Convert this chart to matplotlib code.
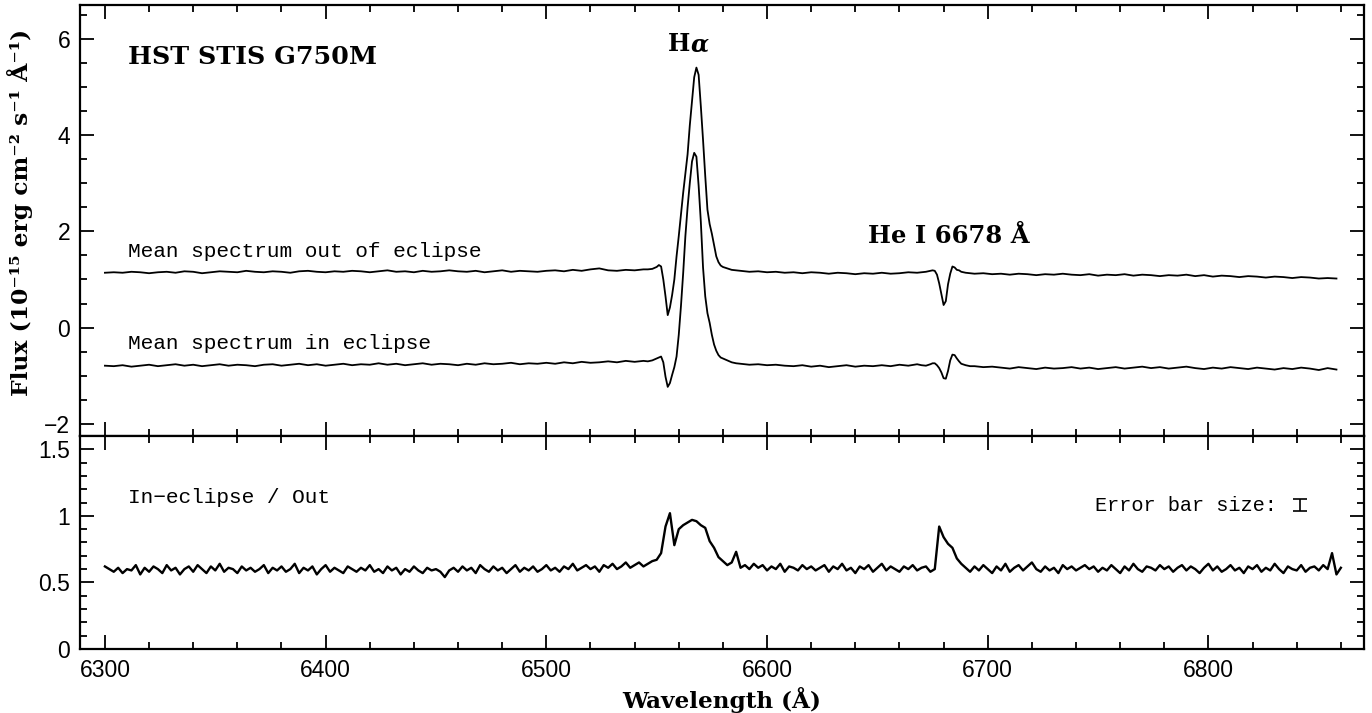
import numpy as np
import matplotlib
matplotlib.use('Agg')
import matplotlib.pyplot as plt
from matplotlib.ticker import MultipleLocator, FuncFormatter

# ---------------- datos ----------------
# rejilla de longitudes de onda del panel superior (A)
wl_seg1 = np.arange(6300, 6545, 4)
wl_ha = [6546, 6548, 6550, 6551, 6552, 6553, 6554, 6555, 6556, 6557, 6558,
         6559, 6560, 6561, 6562, 6563, 6564, 6565, 6566, 6567, 6568, 6569,
         6570, 6571, 6572, 6573, 6574, 6575, 6576, 6577, 6578, 6579, 6580,
         6582, 6584, 6586]
wl_seg2 = np.arange(6588, 6669, 4)
wl_he = [6670, 6672, 6674, 6675, 6676, 6677, 6678, 6679, 6680, 6681, 6682,
         6683, 6684, 6685, 6686, 6687, 6688, 6690, 6692]
wl_seg3 = np.arange(6694, 6859, 4)

# espectro medio fuera de eclipse
out_seg1 = [1.14, 1.15, 1.14, 1.16, 1.15, 1.13, 1.15, 1.16, 1.14, 1.17,
            1.16, 1.13, 1.15, 1.17, 1.16, 1.15, 1.18, 1.16, 1.15, 1.17,
            1.16, 1.14, 1.17, 1.18, 1.16, 1.15, 1.17, 1.16, 1.18, 1.17,
            1.15, 1.17, 1.19, 1.16, 1.17, 1.15, 1.18, 1.16, 1.17, 1.19,
            1.17, 1.16, 1.18, 1.15, 1.17, 1.19, 1.16, 1.18, 1.17, 1.16,
            1.18, 1.19, 1.17, 1.20, 1.18, 1.21, 1.23, 1.19, 1.18, 1.20,
            1.19, 1.21]
out_ha = [1.21, 1.22, 1.26, 1.30, 1.27, 1.00, 0.65, 0.26, 0.42, 0.68, 1.00,
          1.48, 1.90, 2.35, 2.80, 3.20, 3.60, 4.20, 4.70, 5.20, 5.40, 5.25,
          4.60, 3.90, 3.15, 2.45, 2.15, 1.95, 1.72, 1.48, 1.36, 1.29, 1.26,
          1.23, 1.20, 1.19]
out_seg2 = [1.18, 1.16, 1.17, 1.15, 1.16, 1.14, 1.15, 1.13, 1.15, 1.14,
            1.12, 1.14, 1.13, 1.11, 1.13, 1.12, 1.14, 1.12, 1.13, 1.15, 1.14]
out_he = [1.15, 1.16, 1.18, 1.19, 1.18, 1.10, 0.92, 0.70, 0.47, 0.55, 0.90,
          1.12, 1.27, 1.25, 1.20, 1.19, 1.16, 1.14, 1.13]
out_seg3 = [1.12, 1.13, 1.11, 1.12, 1.10, 1.12, 1.11, 1.09, 1.11, 1.10,
            1.12, 1.10, 1.09, 1.11, 1.08, 1.10, 1.09, 1.11, 1.08, 1.10,
            1.09, 1.07, 1.09, 1.08, 1.10, 1.07, 1.09, 1.06, 1.08, 1.07,
            1.05, 1.07, 1.06, 1.04, 1.06, 1.05, 1.03, 1.05, 1.04, 1.02,
            1.03, 1.02]

# espectro medio en eclipse
in_seg1 = [-0.79, -0.80, -0.78, -0.81, -0.79, -0.77, -0.80, -0.78, -0.76, -0.79,
           -0.77, -0.80, -0.78, -0.76, -0.79, -0.77, -0.78, -0.80, -0.77, -0.76,
           -0.79, -0.77, -0.75, -0.78, -0.76, -0.79, -0.77, -0.75, -0.78, -0.76,
           -0.77, -0.74, -0.77, -0.75, -0.78, -0.76, -0.74, -0.77, -0.75, -0.76,
           -0.78, -0.75, -0.77, -0.74, -0.76, -0.75, -0.73, -0.76, -0.74, -0.75,
           -0.73, -0.75, -0.72, -0.74, -0.71, -0.73, -0.72, -0.70, -0.72, -0.69,
           -0.71, -0.69]
in_ha = [-0.70, -0.68, -0.64, -0.62, -0.60, -0.72, -1.02, -1.23, -1.15, -0.98,
         -0.82, -0.60, -0.15, 0.45, 1.13, 1.90, 2.50, 3.00, 3.45, 3.63, 3.55,
         2.95, 2.20, 1.25, 0.65, 0.30, 0.10, -0.15, -0.35, -0.48, -0.57, -0.62,
         -0.64, -0.68, -0.72, -0.74]
in_seg2 = [-0.75, -0.77, -0.76, -0.78, -0.77, -0.79, -0.80, -0.78, -0.81, -0.79,
           -0.82, -0.80, -0.78, -0.81, -0.79, -0.80, -0.78, -0.80, -0.77, -0.79,
           -0.76]
in_he = [-0.78, -0.79, -0.76, -0.74, -0.74, -0.78, -0.84, -0.93, -1.05, -1.06,
         -0.90, -0.68, -0.56, -0.57, -0.64, -0.70, -0.75, -0.78, -0.80]
in_seg3 = [-0.80, -0.82, -0.81, -0.83, -0.85, -0.82, -0.84, -0.86, -0.83, -0.85,
           -0.84, -0.82, -0.85, -0.83, -0.86, -0.84, -0.82, -0.85, -0.83, -0.81,
           -0.84, -0.82, -0.85, -0.83, -0.81, -0.84, -0.86, -0.83, -0.85, -0.82,
           -0.84, -0.86, -0.83, -0.85, -0.87, -0.84, -0.86, -0.83, -0.85, -0.88,
           -0.84, -0.87]

# cociente en eclipse / fuera (paso de 2 A)
wl_ratio = np.arange(6300, 6861, 2)
ratio = [
    0.62, 0.60, 0.58, 0.61, 0.57, 0.60, 0.59, 0.63, 0.56, 0.61, 0.58, 0.62, 0.60, 0.57, 0.63, 0.59, 0.61, 0.56, 0.60, 0.62,
    0.58, 0.63, 0.60, 0.57, 0.62, 0.59, 0.64, 0.58, 0.61, 0.60, 0.57, 0.62, 0.59, 0.61, 0.58, 0.60, 0.63, 0.57, 0.61, 0.59,
    0.62, 0.58, 0.60, 0.64, 0.57, 0.61, 0.59, 0.62, 0.56, 0.60, 0.63, 0.58, 0.61, 0.59, 0.57, 0.62, 0.60, 0.58, 0.61, 0.59,
    0.63, 0.58, 0.60, 0.57, 0.62, 0.59, 0.61, 0.56, 0.60, 0.58, 0.62, 0.59, 0.57, 0.61, 0.59, 0.60, 0.58, 0.54, 0.59, 0.61,
    0.58, 0.62, 0.59, 0.61, 0.57, 0.63, 0.60, 0.58, 0.62, 0.59, 0.61, 0.57, 0.60, 0.63, 0.58, 0.61, 0.59, 0.62, 0.58, 0.60,
    0.63, 0.59, 0.61, 0.58, 0.62, 0.60, 0.64, 0.59, 0.61, 0.63, 0.60, 0.62, 0.58, 0.63, 0.61, 0.64, 0.60, 0.62, 0.65, 0.61,
    0.63, 0.65, 0.62, 0.64, 0.66, 0.67, 0.72, 0.92, 1.02, 0.78, 0.90, 0.93, 0.95, 0.97, 0.96, 0.93, 0.91, 0.81, 0.76, 0.69,
    0.66, 0.63, 0.65, 0.73, 0.61, 0.63, 0.60, 0.64, 0.61, 0.63, 0.59, 0.62, 0.60, 0.64, 0.58, 0.62, 0.61, 0.59, 0.63, 0.60,
    0.62, 0.59, 0.61, 0.63, 0.58, 0.62, 0.60, 0.64, 0.59, 0.61, 0.57, 0.62, 0.60, 0.63, 0.58, 0.61, 0.64, 0.59, 0.62, 0.60,
    0.58, 0.62, 0.60, 0.63, 0.59, 0.61, 0.62, 0.58, 0.60, 0.92, 0.84, 0.79, 0.76, 0.68, 0.64, 0.61, 0.58, 0.62, 0.59, 0.63,
    0.60, 0.57, 0.62, 0.59, 0.64, 0.58, 0.61, 0.63, 0.59, 0.62, 0.65, 0.60, 0.58, 0.62, 0.59, 0.61, 0.57, 0.63, 0.60, 0.62,
    0.59, 0.61, 0.63, 0.60, 0.62, 0.58, 0.61, 0.59, 0.63, 0.60, 0.57, 0.62, 0.59, 0.64, 0.60, 0.58, 0.62, 0.61, 0.59, 0.63,
    0.60, 0.62, 0.58, 0.61, 0.63, 0.59, 0.62, 0.60, 0.57, 0.61, 0.64, 0.59, 0.62, 0.58, 0.60, 0.63, 0.59, 0.61, 0.57, 0.62,
    0.60, 0.63, 0.58, 0.61, 0.59, 0.64, 0.60, 0.57, 0.62, 0.60, 0.59, 0.63, 0.58, 0.61, 0.62, 0.59, 0.63, 0.60, 0.72, 0.56,
    0.61]

# barra de error tipica del cociente
err_wl = [6841.5]
err_val = [1.08]
err_size = [0.047]

# ---------------- figura ----------------
wl_top = np.concatenate([wl_seg1, wl_ha, wl_seg2, wl_he, wl_seg3])
flux_out = np.concatenate([out_seg1, out_ha, out_seg2, out_he, out_seg3])
flux_in = np.concatenate([in_seg1, in_ha, in_seg2, in_he, in_seg3])

fig = plt.figure(figsize=(13.72, 7.13), dpi=100)
ax1 = fig.add_axes([0.0583, 0.3885, 0.9359, 0.6045])
ax2 = fig.add_axes([0.0583, 0.0898, 0.9359, 0.2987], sharex=ax1)

ax1.plot(wl_top, flux_out, color='black', lw=1.3)
ax1.plot(wl_top, flux_in, color='black', lw=1.3)
ax2.plot(wl_ratio, ratio, color='black', lw=1.7)
ax2.errorbar(err_wl, err_val, yerr=err_size, fmt='none', ecolor='black',
             elinewidth=1.2, capsize=5, capthick=1.2)

ax1.set_xlim(6288.7, 6870.5)
ax1.set_ylim(-2.25, 6.7)
ax2.set_ylim(0, 1.6)

fmt = FuncFormatter(lambda v, p: ('%g' % v).replace('-', '\u2212'))
for ax in (ax1, ax2):
    ax.xaxis.set_major_locator(MultipleLocator(100))
    ax.xaxis.set_minor_locator(MultipleLocator(20))
    ax.tick_params(which='both', direction='in', top=True, right=True,
                   width=1.3, labelsize=16.5, pad=7)
    ax.tick_params(which='major', length=10)
    ax.tick_params(which='minor', length=5)
    ax.yaxis.set_major_formatter(fmt)
    for s in ax.spines.values():
        s.set_linewidth(1.6)
    for lab in ax.get_xticklabels() + ax.get_yticklabels():
        lab.set_family('Liberation Sans')

ax1.yaxis.set_major_locator(MultipleLocator(2))
ax1.yaxis.set_minor_locator(MultipleLocator(0.5))
ax2.yaxis.set_major_locator(MultipleLocator(0.5))
ax2.yaxis.set_minor_locator(MultipleLocator(0.1))
ax1.tick_params(labelbottom=False)

serif_b = dict(family='DejaVu Serif', weight='bold')
mono = dict(family='Liberation Mono')

ax1.text(6310.4, 5.63, 'HST STIS G750M', fontsize=18.3, va='center', **serif_b)
ax1.text(6565.1, 5.88, 'H', fontsize=17, ha='right', va='center', **serif_b)
ax1.text(6565.3, 5.88, '\u03b1', fontsize=17, ha='left', va='center',
         style='italic', **serif_b)
ax1.text(6645.7, 1.91, 'He I 6678 \u00c5', fontsize=17.5, va='center', **serif_b)
ax1.text(6310.4, 1.58, 'Mean spectrum out of eclipse', fontsize=15.2,
         va='center', **mono)
ax1.text(6310.4, -0.32, 'Mean spectrum in eclipse', fontsize=15.2,
         va='center', **mono)
ax2.text(6310.4, 1.135, 'In\u2212eclipse / Out', fontsize=15.2, va='center', **mono)
ax2.text(6748.5, 1.08, 'Error bar size:', fontsize=14.6, va='center', **mono)

fig.text(0.526, 0.018, 'Wavelength (\u00c5)', fontsize=16.7, ha='center',
         va='center', **serif_b)
fig.text(0.0146, 0.7027,
         'Flux (10\u207b\u00b9\u2075 erg cm\u207b\u00b2 s\u207b\u00b9 \u00c5\u207b\u00b9)',
         fontsize=16.8, rotation=90, ha='center', va='center', **serif_b)

fig.savefig('out.png', dpi=100)
